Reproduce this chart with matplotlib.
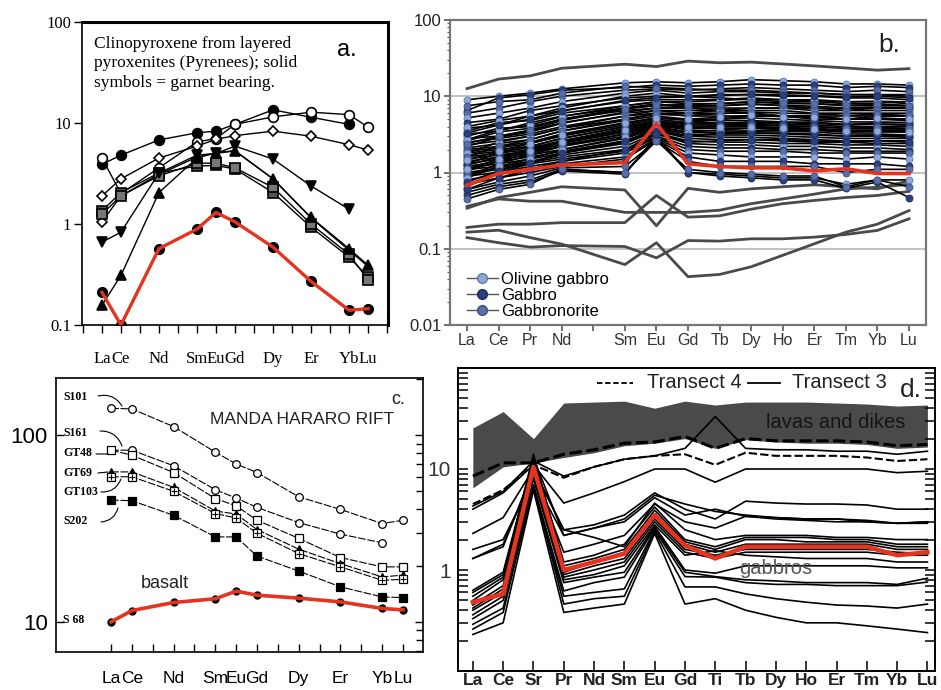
import numpy as np
import matplotlib
matplotlib.use('Agg')
import matplotlib.pyplot as plt
from matplotlib.lines import Line2D
from matplotlib.ticker import LogLocator, NullLocator, NullFormatter
import matplotlib.transforms as mtransforms

plt.rcParams['font.family'] = ['Liberation Sans', 'DejaVu Sans']

W, H = 941, 690
RED = '#e4341f'
nan = np.nan

# ---------------- panel a : clinopyroxene, layered pyroxenites
a_labels = ['La', 'Ce', 'Nd', 'Sm', 'Eu', 'Gd', 'Dy', 'Er', 'Yb', 'Lu']
a_pos = [0, 1, 3, 5, 6, 7, 9, 11, 13, 14]
a_circ_solid = [3.9, 4.8, 6.8, 8.0, 8.3, 9.7, 13.5, 11.4, 9.7, nan]
a_circ_open = [4.5, 2.0, 3.6, 6.5, 7.0, 9.7, 11.5, 12.8, 12.1, 9.1]
a_diam_1 = [1.9, 2.8, 4.5, 5.9, 6.9, 7.5, 8.3, 7.4, 6.1, 5.4]
a_diam_2 = [1.05, 1.9, 3.1, 4.6, 5.0, 5.3, 2.8, 1.15, 0.55, 0.38]
a_sq_1 = [1.35, 2.05, 3.2, 3.75, 3.8, 3.5, 2.05, 0.93, 0.47, 0.30]
a_sq_2 = [1.25, 1.9, 3.0, 4.0, 4.0, 3.6, 2.3, 1.0, 0.50, 0.28]
a_tri_up = [0.157, 0.31, 2.05, 4.5, 5.1, 5.3, 2.8, 1.16, 0.57, 0.39]
a_tri_down = [0.66, 0.83, 3.2, 4.8, 5.0, 5.9, 4.4, 2.38, 1.4, nan]
a_red = [0.21, 0.10, 0.57, 0.89, 1.30, 1.05, 0.59, 0.27, 0.14, 0.145]

# ---------------- panel b : gabbros
b_labels = ['La', 'Ce', 'Pr', 'Nd', 'Sm', 'Eu', 'Gd', 'Tb', 'Dy', 'Ho', 'Er', 'Tm', 'Yb', 'Lu']
b_pos = [0, 1, 2, 3, 5, 6, 7, 8, 9, 10, 11, 12, 13, 14]
b_lines = [
    [9.0, 10.0, 11.0, 12.5, 15.0, 15.5, 15.0, 15.5, 16.5, 16.0, 15.5, 14.5, 14.5, 14.0],
    [6.5, 9.5, 10.5, 12.0, 13.0, 14.0, 13.5, 14.0, 14.5, 14.0, 14.0, 13.0, 13.5, 13.0],
    [6.0, 7.0, 8.5, 10.0, 12.0, 12.5, 12.0, 12.5, 13.0, 12.5, 12.0, 11.5, 12.0, 11.5],
    [5.2, 6.0, 7.0, 8.5, 11.0, 12.0, 11.0, 11.5, 11.5, 11.0, 11.0, 10.5, 10.5, 10.5],
    [4.5, 5.0, 6.5, 7.5, 9.5, 10.0, 10.0, 10.5, 10.5, 10.0, 10.0, 9.5, 9.5, 9.0],
    [3.8, 4.2, 5.5, 6.5, 8.5, 9.0, 9.0, 9.0, 9.5, 9.0, 9.0, 8.5, 8.5, 8.0],
    [3.5, 4.5, 4.8, 6.0, 7.5, 8.5, 8.0, 8.0, 8.5, 8.0, 8.0, 7.5, 7.5, 7.5],
    [3.2, 3.5, 4.5, 5.5, 7.0, 7.5, 7.5, 7.5, 8.0, 7.5, 7.0, 7.0, 7.0, 7.0],
    [3.0, 3.8, 4.0, 5.0, 6.5, 7.0, 7.0, 7.0, 7.0, 7.0, 6.5, 6.5, 6.5, 6.5],
    [2.8, 3.0, 3.5, 4.5, 6.0, 6.5, 6.5, 6.5, 6.5, 6.5, 6.0, 6.0, 6.0, 6.0],
    [2.5, 2.8, 3.2, 4.0, 5.5, 6.5, 6.0, 6.0, 6.0, 5.5, 5.5, 5.5, 5.5, 5.5],
    [2.3, 2.6, 3.0, 3.8, 5.0, 6.0, 5.5, 5.5, 5.5, 5.5, 5.0, 5.0, 5.0, 5.0],
    [2.1, 2.4, 2.7, 3.5, 4.8, 5.5, 5.0, 5.0, 5.2, 5.0, 4.8, 4.6, 4.6, 4.5],
    [2.0, 2.2, 2.5, 3.2, 4.5, 5.2, 4.8, 4.8, 4.8, 4.6, 4.5, 4.3, 4.3, 4.2],
    [1.9, 2.1, 2.4, 3.0, 4.2, 5.0, 4.5, 4.5, 4.5, 4.3, 4.2, 4.0, 4.0, 4.0],
    [1.8, 2.0, 2.2, 2.8, 4.0, 4.8, 4.2, 4.2, 4.3, 4.1, 4.0, 3.8, 3.8, 3.7],
    [1.7, 1.9, 2.1, 2.6, 3.6, 4.5, 4.0, 4.0, 4.0, 3.9, 3.8, 3.6, 3.6, 3.5],
    [1.6, 1.8, 2.0, 2.5, 3.4, 4.4, 3.8, 3.8, 3.8, 3.7, 3.6, 3.4, 3.4, 3.4],
    [1.5, 1.7, 1.9, 2.3, 3.2, 4.2, 3.6, 3.5, 3.5, 3.5, 3.4, 3.2, 3.2, 3.1],
    [1.4, 1.6, 1.8, 2.2, 3.0, 4.0, 3.4, 3.3, 3.3, 3.2, 3.1, 3.0, 3.0, 2.9],
    [1.3, 1.5, 1.7, 2.0, 2.8, 3.8, 3.2, 3.1, 3.1, 3.0, 2.9, 2.8, 2.8, 2.8],
    [1.2, 1.4, 1.6, 1.9, 2.6, 3.7, 3.0, 2.9, 2.9, 2.8, 2.7, 2.6, 2.6, 2.6],
    [1.15, 1.3, 1.5, 1.8, 2.4, 3.5, 2.8, 2.7, 2.7, 2.6, 2.5, 2.5, 2.4, 2.4],
    [1.1, 1.2, 1.4, 1.7, 2.2, 3.3, 2.6, 2.5, 2.5, 2.4, 2.4, 2.3, 2.3, 2.2],
    [1.0, 1.15, 1.35, 1.6, 2.0, 3.2, 2.4, 2.3, 2.3, 2.2, 2.2, 2.1, 2.1, 2.0],
    [0.95, 1.1, 1.3, 1.5, 1.9, 3.0, 2.2, 2.1, 2.1, 2.0, 2.0, 1.9, 1.9, 1.9],
    [0.9, 1.0, 1.2, 1.4, 1.8, 2.9, 2.0, 1.9, 1.9, 1.9, 1.8, 1.8, 1.8, 1.8],
    [0.8, 0.95, 1.1, 1.3, 1.6, 2.8, 1.8, 1.7, 1.6, 1.6, 1.6, 1.5, 1.6, 1.5],
    [0.7, 0.85, 1.0, 1.2, 1.5, 2.7, 1.6, 1.4, 1.4, 1.4, 1.3, 1.3, 1.3, 1.2],
    [0.6, 0.75, 0.9, 1.15, 1.2, 2.6, 1.4, 1.2, 1.2, 1.2, 1.2, 1.0, 1.1, 1.1],
    [0.55, 0.7, 0.8, 1.1, 1.0, 2.8, 1.0, 0.95, 0.9, 0.85, 0.85, 0.7, 0.8, 0.8],
    [0.5, 0.65, 0.75, 1.05, 0.95, 3.0, 1.0, 0.9, 0.85, 0.8, 0.8, 0.62, 0.75, 0.47],
    [0.45, 0.6, 0.7, 1.1, 1.0, 2.6, 1.1, 1.0, 0.95, 0.9, 0.9, 0.65, 0.8, 0.65],
    [4.0, 4.8, 5.5, 7.0, 10.0, 11.0, 10.0, 9.5, 9.0, 8.5, 8.5, 8.0, 8.0, 7.5],
    [2.6, 3.4, 3.8, 5.0, 7.0, 8.0, 7.0, 6.5, 6.0, 5.5, 5.5, 5.0, 5.0, 4.8],
    [7.5, 8.5, 9.0, 11.0, 13.5, 13.0, 12.5, 12.0, 12.0, 11.5, 11.0, 10.5, 10.5, 10.0],
    [1.8, 2.5, 3.0, 3.8, 5.5, 6.0, 6.0, 6.5, 7.0, 7.0, 7.0, 6.5, 7.0, 7.0],
    [1.3, 1.8, 2.2, 2.8, 4.0, 4.6, 4.5, 5.0, 5.5, 5.5, 5.5, 5.0, 5.5, 5.5],
    [0.9, 1.3, 1.7, 2.2, 3.2, 4.0, 3.8, 4.2, 4.5, 4.5, 4.6, 4.2, 4.5, 4.5],
    [0.65, 1.0, 1.3, 1.8, 2.5, 3.5, 3.0, 3.3, 3.5, 3.6, 3.6, 3.5, 3.6, 3.6],
    [1.25, 1.6, 2.0, 2.6, 3.8, 4.6, 4.3, 4.4, 4.6, 4.5, 4.4, 4.2, 4.3, 4.2],
    [1.05, 1.4, 1.8, 2.4, 3.4, 4.2, 3.9, 4.0, 4.2, 4.1, 4.0, 3.8, 3.9, 3.8],
    [0.85, 1.2, 1.5, 2.0, 2.9, 3.8, 3.4, 3.6, 3.8, 3.7, 3.6, 3.4, 3.5, 3.4],
    [0.75, 1.05, 1.35, 1.8, 2.6, 3.5, 3.0, 3.2, 3.3, 3.3, 3.2, 3.0, 3.1, 3.0],
    [2.2, 2.9, 3.4, 4.4, 6.2, 7.0, 7.2, 7.5, 7.8, 7.6, 7.4, 7.0, 7.2, 7.0],
    [2.7, 3.6, 4.2, 5.4, 7.5, 8.4, 8.5, 8.8, 9.2, 9.0, 8.8, 8.4, 8.6, 8.4],
    [3.3, 4.2, 5.0, 6.4, 8.8, 9.6, 9.8, 10.2, 10.6, 10.4, 10.2, 9.8, 10.0, 9.6],
    [1.6, 2.2, 2.7, 3.5, 5.0, 5.8, 5.6, 5.9, 6.2, 6.0, 5.9, 5.6, 5.8, 5.6],
    [1.1, 1.5, 1.9, 2.5, 3.6, 4.5, 4.0, 4.0, 4.0, 3.8, 3.7, 3.5, 3.5, 3.4],
    [0.6, 0.85, 1.1, 1.4, 2.0, 3.2, 2.5, 2.6, 2.7, 2.7, 2.6, 2.5, 2.6, 2.5],
    [2.4, 3.0, 3.6, 4.8, 6.8, 7.6, 7.8, 8.0, 8.4, 8.2, 8.0, 7.6, 7.8, 7.5],
    [1.45, 1.9, 2.4, 3.1, 4.4, 5.2, 5.0, 5.3, 5.6, 5.4, 5.3, 5.0, 5.2, 5.0],
]
b_rock = ['ol', 'gb', 'gn'] * 18
b_gray = [
    [12.6, 16.8, 18.5, 23.3, 26.3, 24.5, 28.9, 27.5, 28.0, 26.5, 25.0, 23.5, 22.0, 23.0],
    [0.34, 0.47, 0.55, 0.65, 0.59, 0.20, 0.62, 0.55, 0.61, 0.65, 0.69, 0.65, 0.61, 0.78],
    [0.36, 0.45, 0.42, 0.42, 0.30, 0.30, 0.30, 0.32, 0.39, 0.45, 0.52, 0.61, 0.64, 0.70],
    [0.19, 0.21, 0.21, 0.22, 0.22, 0.50, 0.26, 0.27, 0.33, 0.39, 0.43, 0.47, 0.50, 0.565],
    [0.165, 0.175, 0.14, 0.115, 0.062, 0.12, 0.043, 0.046, 0.058, 0.082, 0.116, 0.165, 0.21, 0.316],
    [0.14, 0.12, 0.105, 0.11, 0.107, 0.076, 0.128, 0.126, 0.135, 0.135, 0.142, 0.154, 0.174, 0.247],
]
b_red = [0.68, 0.97, 1.1, 1.25, 1.35, 4.4, 1.3, 1.2, 1.15, 1.15, 1.05, 1.12, 0.97, 0.97]
b_legend = ['Olivine gabbro', 'Gabbro', 'Gabbronorite']
b_face = {'ol': '#8fa9da', 'gb': '#2c3f7e', 'gn': '#5a6fa8'}
b_edge = {'ol': '#5a77ad', 'gb': '#1b2a5c', 'gn': '#3a4d85'}

# ---------------- panel c : Manda Hararo rift
c_labels = ['La', 'Ce', 'Nd', 'Sm', 'Eu', 'Gd', 'Dy', 'Er', 'Yb', 'Lu']
c_pos = [0, 1, 3, 5, 6, 7, 9, 11, 13, 14]
c_s101 = [139, 138, 111, 81, 70, 63, 46.7, 40, 33.6, 35]
c_s161 = [83, 83, 68.5, 51, 46, 41, 34, 29.5, 26.5, nan]
c_gt48 = [83, 78, 63, 45.7, 41.8, 35, 28, 22.1, 19.7, 19.7]
c_gt69 = [63.5, 63.5, 52.5, 39.2, 37.8, 31.2, 24.5, 20.5, 17.4, 17.8]
c_gt103 = [59.8, 59.8, 50, 38, 36, 29.8, 23.2, 19.7, 16.7, 16.9]
c_s202 = [44.9, 44.5, 37.2, 28.5, 28.5, 22.5, 18.7, 15.4, 13.6, 13.5]
c_s68 = [10.0, 11.5, 12.7, 13.3, 14.6, 13.9, 13.4, 12.8, 11.8, 11.6]

# ---------------- panel d : transects
d_labels = ['La', 'Ce', 'Sr', 'Pr', 'Nd', 'Sm', 'Eu', 'Gd', 'Ti', 'Tb', 'Dy', 'Ho', 'Er', 'Tm', 'Yb', 'Lu']
d_pos = list(range(16))
d_band_lo = [6.5, 10.5, 11.5, 13, 14.5, 17, 18, 20, 16, 19.5, 18.5, 18, 18, 17.5, 16, 16.5]
d_band_hi = [25.5, 37, 20, 45, 46, 47, 40, 47, 43, 46, 46, 46, 45, 44, 42, 43]
d_t4 = [
    [8.5, 11.5, 11.5, 14, 15.5, 18, 18.5, 21, 16, 20, 19, 19, 19, 18.5, 17, 17.5],
    [4.5, 6.2, 11, 8.2, 10.5, 12.5, 13.5, 14, 11, 14.5, 13.5, 13.5, 13.5, 13, 12, 12.5],
]
d_t3 = [
    [4.3, 6.0, 12, 8.5, 10.5, 12.5, 13.5, 16, 33, 16, 15.5, 15.5, 15, 15, 14, 15],
    [4.0, 5.8, 11, 4.6, 5.8, 7.5, 10, 10, 7.4, 10, 10, 10, 10, 10, 9.2, 9.5],
    [2.3, 3.3, 10, 2.5, 2.8, 3.5, 5.8, 4.0, 3.2, 4.8, 4.6, 4.5, 4.5, 4.4, 4.0, 4.0],
    [1.6, 2.0, 8, 2.2, 2.6, 3.0, 5.2, 3.5, 4.0, 3.4, 3.3, 3.2, 3.2, 3.1, 2.9, 3.0],
    [1.3, 1.8, 9, 1.5, 1.8, 2.2, 4.5, 3.0, 2.6, 3.4, 3.2, 3.1, 3.0, 3.0, 2.9, 3.0],
    [1.3, 1.7, 10, 2.5, 2.1, 1.7, 4.6, 2.5, 2.0, 2.2, 2.2, 2.2, 2.1, 2.1, 2.0, 2.0],
    [0.6, 0.9, 13, 2.2, 2.6, 3.2, 5.5, 4.5, 3.8, 3.5, 3.3, 3.2, 3.2, 3.0, 2.9, 2.9],
    [0.63, 0.95, 13, 1.2, 1.4, 1.8, 4.2, 2.0, 1.7, 2.1, 2.1, 2.1, 2.0, 2.0, 1.8, 1.8],
    [0.55, 0.85, 14, 1.1, 1.3, 1.6, 3.9, 1.9, 1.6, 2.0, 2.0, 1.9, 1.9, 1.9, 1.7, 1.7],
    [0.50, 0.8, 12, 0.95, 1.2, 1.5, 3.6, 1.8, 1.5, 1.8, 1.8, 1.8, 1.8, 1.8, 1.6, 1.6],
    [0.45, 0.7, 11, 0.9, 1.1, 1.3, 3.2, 1.6, 1.4, 1.6, 1.6, 1.6, 1.6, 1.6, 1.5, 1.45],
    [0.42, 0.65, 10, 0.85, 1.0, 1.2, 3.0, 1.5, 1.3, 1.5, 1.5, 1.5, 1.5, 1.5, 1.4, 1.4],
    [0.40, 0.6, 9, 0.8, 0.9, 1.1, 2.8, 1.4, 1.55, 1.4, 1.35, 1.3, 1.3, 1.3, 1.2, 1.2],
    [0.36, 0.55, 8, 0.75, 0.85, 0.95, 2.7, 1.0, 0.93, 1.1, 1.1, 1.1, 1.1, 1.1, 1.05, 1.05],
    [0.33, 0.5, 7, 0.62, 0.75, 0.85, 2.6, 0.95, 0.86, 0.8, 0.78, 0.75, 0.75, 0.75, 0.72, 0.83],
    [0.29, 0.42, 6.5, 0.55, 0.6, 0.65, 2.5, 0.86, 0.85, 0.75, 0.72, 0.72, 0.7, 0.7, 0.7, 0.76],
    [0.26, 0.38, 6.8, 0.46, 0.52, 0.55, 2.4, 0.68, 0.68, 0.58, 0.52, 0.48, 0.45, 0.44, 0.42, 0.46],
    [0.23, 0.30, 6.2, 0.38, 0.42, 0.46, 2.3, 0.46, 0.52, 0.40, 0.34, 0.30, 0.30, 0.28, 0.26, 0.24],
]
d_red = [0.48, 0.58, 10.5, 1.0, 1.2, 1.45, 3.5, 1.75, 1.3, 1.7, 1.7, 1.7, 1.7, 1.7, 1.4, 1.5]


def box(l, t, r, b):
    return [l / W, 1 - b / H, (r - l) / W, (b - t) / H]


def fpx(x, y):
    return (x / W, 1 - y / H)


fig = plt.figure(figsize=(W / 100, H / 100), dpi=100)
SERIF = ['Liberation Serif', 'DejaVu Serif']

# ======================= panel a
ax = fig.add_axes(box(82, 22, 388, 325))
ax.set_yscale('log')
ax.set_xlim(-1.05, 15.05)
ax.set_ylim(0.1, 100)
a_series = [
    (a_circ_solid, 'o', 'k', 7),
    (a_circ_open, 'o', 'white', 7),
    (a_diam_1, 'D', 'white', 5),
    (a_diam_2, 'D', 'white', 5),
    (a_sq_1, 's', '#555555', 7),
    (a_sq_2, 's', '#777777', 7),
    (a_tri_up, '^', 'k', 7),
    (a_tri_down, 'v', 'k', 7),
]
for vals, mk, face, ms in a_series:
    me = [0] if vals is a_diam_2 else None
    ax.plot(a_pos, vals, color='k', lw=1, marker=mk, ms=ms, mfc=face,
            mec='k', mew=1.2, markevery=me, zorder=3)
ax.plot(a_pos, a_red, 'o', color='k', ms=7, zorder=3)
ax.plot(a_pos, a_red, color=RED, lw=2.4, zorder=4)
ax.set_yticks([0.1, 1, 10, 100])
ax.set_yticklabels(['0.1', '1', '10', '100'], fontfamily=SERIF, fontsize=12)
ax.yaxis.set_minor_locator(NullLocator())
ax.set_xticks(a_pos)
ax.set_xticklabels(a_labels, fontfamily=SERIF, fontsize=12)
ax.set_xticks(range(-1, 16), minor=True)
ax.tick_params(which='both', direction='out', length=6, width=1)
ax.tick_params(axis='x', which='major', pad=13)
ax.tick_params(axis='y', pad=2)
for s in ['top', 'right']:
    ax.spines[s].set_linewidth(2.2)
for s in ['left', 'bottom']:
    ax.spines[s].set_linewidth(1.2)
ax.text(0.04, 0.955, 'Clinopyroxene from layered\npyroxenites (Pyrenees); solid\nsymbols = garnet bearing.',
        transform=ax.transAxes, ha='left', va='top', fontfamily=SERIF,
        fontsize=12.5, linespacing=1.3)
fig.text(*fpx(347, 50), 'a.', ha='center', va='center', fontsize=17)

# ======================= panel b
ax = fig.add_axes(box(450, 20, 926, 325))
ax.set_yscale('log')
ax.set_xlim(-0.54, 14.54)
ax.set_ylim(0.01, 100)
for yv in [0.1, 1, 10]:
    ax.axhline(yv, color='#bdbdbd', lw=1.3, zorder=0)
for vals in b_gray:
    ax.plot(b_pos, vals, color='#4a4a4a', lw=2, zorder=2)
for vals in b_lines:
    ax.plot(b_pos, vals, color='k', lw=1.2, zorder=3)
for vals, rock in zip(b_lines, b_rock):
    ax.plot(b_pos, vals, 'o', ls='none', ms=5, mfc=b_face[rock],
            mec=b_edge[rock], mew=0.6, zorder=4)
ax.plot(b_pos, b_red, color=RED, lw=2.6, zorder=5)
ax.set_yticks([0.01, 0.1, 1, 10, 100])
ax.set_yticklabels(['0.01', '0.1', '1', '10', '100'], fontsize=12, color='#222222')
ax.yaxis.set_minor_locator(LogLocator(base=10, subs=np.arange(2, 10)))
ax.yaxis.set_minor_formatter(NullFormatter())
ax.set_xticks(range(15))
ax.set_xticklabels(b_labels[:4] + [''] + b_labels[4:], fontsize=11.5, color='#333333')
shift = mtransforms.ScaledTranslation(0.07, 0, fig.dpi_scale_trans)
for lab in ax.get_xticklabels():
    lab.set_transform(lab.get_transform() + shift)
ax.tick_params(which='major', direction='out', length=4, width=1.2, color='#555555', pad=2)
ax.tick_params(which='minor', direction='out', length=2.5, width=0.8, color='#555555')
for s in ax.spines.values():
    s.set_color('#777777')
    s.set_linewidth(1.6)
handles = [Line2D([], [], color='#555555', lw=1, marker='o', ms=7,
                  mfc=b_face[r], mec=b_edge[r]) for r in ['ol', 'gb', 'gn']]
ax.legend(handles, b_legend, loc='lower left', bbox_to_anchor=(0.035, 0.02),
          frameon=False, fontsize=12, handlelength=1.9, handletextpad=0.15,
          labelspacing=0.05, borderpad=0, borderaxespad=0)
fig.text(*fpx(889, 45), 'b.', ha='center', va='center', fontsize=19, color='#222222')

# ======================= panel c
ax = fig.add_axes(box(56, 378, 423, 652))
ax.set_yscale('log')
ax.set_xlim(-2.64, 14.96)
ax.set_ylim(6.9, 202)
dash = (0, (7, 1.5))
c_series = [
    (c_s101, 'o', 'white', 5.5),
    (c_s161, 'o', 'white', 5.5),
    (c_gt48, 's', 'white', 5.5),
    (c_gt69, '^', 'k', 5.5),
    (c_gt103, 's', 'white', 5.5),
    (c_s202, 's', 'k', 5.5),
]
for vals, mk, face, ms in c_series:
    ax.plot(c_pos, vals, color='k', lw=0.8, ls=dash, marker=mk, ms=ms,
            mfc=face, mec='k', mew=0.9, zorder=3)
ax.plot(c_pos, c_gt103, '+', color='k', ms=5, mew=0.8, zorder=4)
ax.plot(c_pos, c_s68, 'o', color='k', ms=5, zorder=3)
ax.plot(c_pos, c_s68, color=RED, lw=2.6, zorder=4)
ax.set_yticks([10, 100])
ax.set_yticklabels(['10', '100'], fontsize=16)
ax.yaxis.set_minor_locator(LogLocator(base=10, subs=np.arange(2, 10)))
ax.yaxis.set_minor_formatter(NullFormatter())
ax.set_xticks(c_pos)
ax.set_xticklabels(c_labels, fontsize=12.5)
ax.set_xticks(range(15), minor=True)
ax.tick_params(which='both', direction='in', length=6, width=1, right=True)
ax.tick_params(axis='y', which='minor', left=False, right=True, length=5)
ax.tick_params(axis='x', which='major', pad=14)
ax.tick_params(axis='y', which='major', pad=6)
for s in ax.spines.values():
    s.set_linewidth(1.2)
c_tags = [('S101', 397), ('S161', 433), ('GT48', 453), ('GT69', 473),
          ('GT103', 492), ('S202', 521), ('S 68', 620)]
for name, yy in c_tags:
    fig.text(*fpx(63, yy), name, ha='left', va='center', fontsize=8.5,
             fontweight='bold', fontfamily=SERIF)
leaders = [((98, 396), (122, 406), -0.35), ((100, 431), (122, 446), -0.35),
           ((96, 454), (108, 454), 0.0), ((98, 473), (108, 472), 0.0),
           ((101, 492), (121, 479), 0.35), ((101, 522), (118, 508), 0.35)]
for p0, p1, rad in leaders:
    ax.annotate('', xy=fpx(*p1), xytext=fpx(*p0), xycoords='figure fraction',
                textcoords='figure fraction',
                arrowprops=dict(arrowstyle='-', lw=0.8, color='k',
                                connectionstyle='arc3,rad=%s' % rad,
                                shrinkA=0, shrinkB=0))
fig.text(*fpx(398, 399), 'c.', ha='center', va='center', fontsize=13, color='#222222')
fig.text(*fpx(302, 420), 'MANDA HARARO RIFT', ha='center', va='center',
         fontsize=12.5, color='#222222')
fig.text(*fpx(165, 584), 'basalt', ha='center', va='center', fontsize=13, color='#222222')

# ======================= panel d
ax = fig.add_axes(box(458, 368, 935, 671))
ax.set_yscale('log')
ax.set_xlim(-0.49, 15.25)
ax.set_ylim(0.1, 100)
ax.fill_between(d_pos, d_band_lo, d_band_hi, color='#4a4a4a', lw=0, zorder=1)
for vals in d_t3:
    ax.plot(d_pos, vals, color='k', lw=1.2, zorder=2)
ax.plot(d_pos, d_t4[0], color='k', lw=2.2, ls=(0, (4, 1.5)), zorder=3)
ax.plot(d_pos, d_t4[1], color='k', lw=1.5, ls=(0, (4, 1.5)), zorder=3)
ax.plot(d_pos, d_red, color=RED, lw=3.2, zorder=4)
ax.set_yticks([1, 10])
ax.set_yticklabels(['1', '10'], fontsize=15, color='#333333')
ax.yaxis.set_minor_locator(LogLocator(base=10, subs=np.arange(2, 10)))
ax.yaxis.set_minor_formatter(NullFormatter())
ax.set_xticks(d_pos)
ax.set_xticklabels(d_labels, fontsize=12.5, fontweight='bold', color='#222222')
ax.tick_params(which='both', direction='in', length=7, width=1.1, right=True)
ax.tick_params(axis='x', pad=1.5)
ax.tick_params(axis='y', which='major', pad=5)
for s in ax.spines.values():
    s.set_linewidth(1.4)
fig.add_artist(Line2D([597 / W, 633 / W], [1 - 383 / H] * 2, color='k', lw=1.3,
                      ls=(0, (3, 1.5)), transform=fig.transFigure))
fig.text(*fpx(647, 383), 'Transect 4', ha='left', va='center', fontsize=14.5, color='#222222')
fig.add_artist(Line2D([748 / W, 780 / W], [1 - 383 / H] * 2, color='k', lw=1.3,
                      transform=fig.transFigure))
fig.text(*fpx(792, 383), 'Transect 3', ha='left', va='center', fontsize=14.5, color='#222222')
fig.text(*fpx(911, 390), 'd.', ha='center', va='center', fontsize=19, color='#222222')
fig.text(*fpx(836, 422), 'lavas and dikes', ha='center', va='center', fontsize=14.5, color='#151515')
fig.text(*fpx(776, 568), 'gabbros', ha='center', va='center', fontsize=14.5, color='#555555')

fig.savefig('out.png', dpi=100)
